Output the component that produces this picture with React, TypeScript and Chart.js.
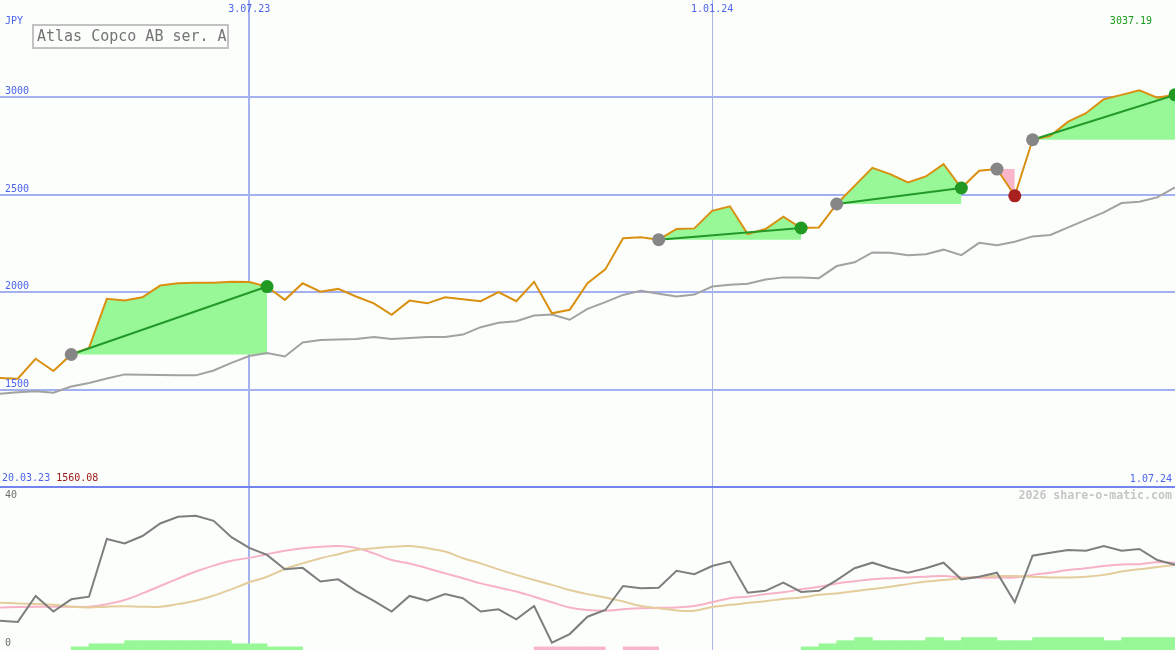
import React, { useEffect, useRef } from 'react';
import { Chart, registerables } from 'chart.js';

Chart.register(...registerables);

const W = 1175;
const TOP_H = 488;
const BOT_H = 162;

// ---- text ----
const title = 'Atlas Copco AB ser. A';
const currency = 'JPY';
const credit = '2026 share-o-matic.com';
const startDateLabel = '20.03.23';
const endDateLabel = '1.07.24';
const dateTickIndex = [14, 40];
const dateTickLabels = ['3.07.23', '1.01.24'];
const priceTicks = [1500, 2000, 2500, 3000];
const oscTicks = [40, 0];

// ---- weekly data (index 0 = week of 27.03.23, index 66 = 1.07.24) ----
const price = [
  1563, 1560.08, 1662, 1599, 1684, 1718, 1969, 1960, 1977, 2037,
  2049, 2051, 2051, 2057, 2055, 2032, 1964, 2049, 2006, 2020,
  1981, 1946, 1887, 1960, 1946, 1977, 1967, 1957, 2003, 1957,
  2056, 1895, 1913, 2049, 2120, 2279, 2284, 2272, 2327, 2330,
  2420, 2443, 2301, 2327, 2390, 2332, 2335, 2455, 2548, 2640,
  2608, 2565, 2596, 2659, 2537, 2625, 2634, 2497, 2784, 2804,
  2877, 2920, 2992, 3014, 3037.19, 3000, 3014,
];
const priceAvg = [
  1483, 1490, 1496, 1488, 1520, 1538, 1561, 1582, 1580, 1579,
  1577, 1577, 1602, 1641, 1676, 1691, 1674, 1745, 1758, 1761,
  1763, 1773, 1763, 1768, 1773, 1774, 1786, 1824, 1846, 1854,
  1884, 1889, 1862, 1918, 1952, 1989, 2011, 1995, 1981, 1991,
  2032, 2041, 2046, 2068, 2079, 2078, 2075, 2137, 2156, 2207,
  2205, 2193, 2198, 2221, 2193, 2256, 2244, 2262, 2289, 2296,
  2335, 2374, 2412, 2460, 2467, 2489, 2540,
];
const trendStrength = [
  7.9, 7.6, 14.6, 10.4, 13.7, 14.4, 30.0, 28.8, 30.8, 34.2,
  36.0, 36.3, 34.9, 30.5, 27.6, 25.7, 21.8, 22.2, 18.5, 19.1,
  15.9, 13.3, 10.4, 14.6, 13.3, 15.1, 14.0, 10.4, 11.0, 8.3,
  11.9, 2.0, 4.3, 9.0, 10.8, 17.3, 16.7, 16.8, 21.4, 20.5,
  22.7, 23.9, 15.5, 16.0, 18.2, 15.7, 16.0, 18.9, 22.1, 23.6,
  22.1, 20.9, 22.1, 23.6, 19.1, 19.8, 20.9, 12.9, 25.5, 26.3,
  27.0, 26.8, 28.1, 26.8, 27.3, 24.3, 23.0,
];
const plusLine = [
  11.5, 11.6, 11.7, 11.7, 11.7, 11.7, 12.4, 13.5, 15.3, 17.3,
  19.3, 21.2, 22.8, 24.1, 24.9, 25.9, 26.8, 27.5, 27.9, 28.1,
  27.6, 26.1, 24.3, 23.4, 22.1, 20.7, 19.4, 18.0, 16.9, 15.8,
  14.4, 12.9, 11.5, 10.8, 10.6, 11.0, 11.3, 11.4, 11.5, 11.9,
  12.9, 14.0, 14.4, 15.1, 15.6, 16.4, 17.1, 18.0, 18.6, 19.1,
  19.4, 19.6, 19.8, 20.0, 19.6, 19.5, 19.6, 19.6, 20.3, 20.9,
  21.6, 22.1, 22.7, 23.1, 23.2, 23.7, 23.6,
];
const minusLine = [
  12.8, 12.6, 12.4, 12.2, 11.7, 11.5, 11.7, 11.8, 11.7, 11.7,
  12.4, 13.3, 14.7, 16.4, 18.3, 19.8, 21.9, 23.4, 24.8, 25.9,
  27.0, 27.5, 27.9, 28.1, 27.5, 26.6, 24.8, 23.4, 21.8, 20.3,
  18.9, 17.6, 16.2, 15.1, 14.2, 13.1, 11.9, 11.3, 10.7, 10.6,
  11.6, 12.2, 12.7, 13.2, 13.8, 14.2, 14.9, 15.3, 15.9, 16.5,
  17.1, 17.8, 18.5, 18.9, 19.4, 19.8, 20.0, 20.0, 19.8, 19.6,
  19.6, 19.8, 20.3, 21.2, 21.8, 22.4, 23.0,
];
const buyBars = [
  0, 0, 0, 0, 1, 2, 2, 3, 3, 3,
  3, 3, 3, 2, 2, 1, 1, 0, 0, 0,
  0, 0, 0, 0, 0, 0, 0, 0, 0, 0,
  0, 0, 0, 0, 0, 0, 0, 0, 0, 0,
  0, 0, 0, 0, 0, 1, 2, 3, 4, 3,
  3, 3, 4, 3, 4, 4, 3, 3, 4, 4,
  4, 4, 3, 4, 4, 4, 0,
];
const sellBars = [
  0, 0, 0, 0, 0, 0, 0, 0, 0, 0,
  0, 0, 0, 0, 0, 0, 0, 0, 0, 0,
  0, 0, 0, 0, 0, 0, 0, 0, 0, 0,
  1, 1, 1, 1, 0, 1, 1, 0, 0, 0,
  0, 0, 0, 0, 0, 0, 0, 0, 0, 0,
  0, 0, 0, 0, 0, 0, 0, 0, 0, 0,
  0, 0, 0, 0, 0, 0, 0,
];
const tradeEntry = [4, 37, 47, 56, 58];
const tradeExit = [15, 45, 54, 57, 66];

// ---- styles ----
const BG = '#fbfefb';
const GRID = '#a3b1f1';
const GRID_THIN = '#aab4e6';
const BLUE_TXT = '#4d63ee';
const MONO = '"DejaVu Sans Mono", monospace';
const GREEN_FILL = '#98f898';
const PINK_FILL = '#f8b6c8';

const pts = (arr: number[]) => arr.map((v, i) => ({ x: i, y: v }));

function drawDateLines(chart: any, h: number) {
  const { ctx, scales } = chart;
  const x = scales.x;
  dateTickIndex.forEach((idx, k) => {
    const px = x.getPixelForValue(idx);
    ctx.beginPath();
    if (k === 0) {
      ctx.strokeStyle = GRID;
      ctx.lineWidth = 2;
      const p = Math.round(px);
      ctx.moveTo(p, 0);
      ctx.lineTo(p, h);
    } else {
      ctx.strokeStyle = GRID_THIN;
      ctx.lineWidth = 1;
      const p = Math.floor(px) + 0.5;
      ctx.moveTo(p, 0);
      ctx.lineTo(p, h);
    }
    ctx.stroke();
  });
}

const topDecor = {
  id: 'topDecor',
  beforeDraw(chart: any) {
    const { ctx, width, height } = chart;
    const y = chart.scales.y;
    ctx.save();
    ctx.fillStyle = BG;
    ctx.fillRect(0, 0, width, height);
    ctx.strokeStyle = GRID;
    ctx.lineWidth = 2;
    for (const v of priceTicks) {
      const py = Math.floor(y.getPixelForValue(v));
      ctx.beginPath();
      ctx.moveTo(0, py);
      ctx.lineTo(width, py);
      ctx.stroke();
    }
    drawDateLines(chart, height);
    ctx.restore();
  },
  afterDraw(chart: any) {
    const { ctx, width } = chart;
    const { x, y } = chart.scales;
    ctx.save();
    ctx.font = `10px ${MONO}`;
    ctx.textBaseline = 'middle';
    ctx.fillStyle = BLUE_TXT;
    ctx.textAlign = 'left';
    for (const v of priceTicks) {
      const py = Math.floor(y.getPixelForValue(v));
      ctx.fillText(String(v), 5, py - 6);
    }
    ctx.textAlign = 'center';
    dateTickIndex.forEach((idx, k) => {
      ctx.fillText(dateTickLabels[k], x.getPixelForValue(idx), 9);
    });
    ctx.textAlign = 'left';
    ctx.fillText(currency, 5, 21);
    // start / min
    ctx.fillText(startDateLabel, 2, 478);
    const sw = ctx.measureText(startDateLabel).width;
    ctx.fillStyle = '#a01818';
    ctx.fillText(Math.min(...price).toFixed(2), 2 + sw + 6, 478);
    // end date
    ctx.fillStyle = BLUE_TXT;
    ctx.textAlign = 'right';
    ctx.fillText(endDateLabel, width - 3, 479);
    // max
    ctx.fillStyle = '#1a9a1a';
    ctx.fillText(Math.max(...price).toFixed(2), 1152, 21);
    // title box
    ctx.fillStyle = BG;
    ctx.fillRect(33, 25, 195, 23);
    ctx.strokeStyle = '#c2c2c2';
    ctx.lineWidth = 2;
    ctx.strokeRect(33, 25, 195, 23);
    ctx.fillStyle = '#747474';
    ctx.textAlign = 'left';
    ctx.font = `15px ${MONO}`;
    ctx.fillText(title, 37, 37);
    // separator
    ctx.strokeStyle = '#7384ee';
    ctx.lineWidth = 2;
    ctx.beginPath();
    ctx.moveTo(0, 487);
    ctx.lineTo(width, 487);
    ctx.stroke();
    ctx.restore();
  },
};

const botDecor = {
  id: 'botDecor',
  beforeDraw(chart: any) {
    const { ctx, width, height } = chart;
    ctx.save();
    ctx.fillStyle = BG;
    ctx.fillRect(0, 0, width, height);
    drawDateLines(chart, height);
    ctx.restore();
  },
  afterDraw(chart: any) {
    const { ctx, width } = chart;
    const y = chart.scales.y;
    ctx.save();
    ctx.textBaseline = 'middle';
    ctx.font = `10px ${MONO}`;
    ctx.fillStyle = '#707070';
    ctx.textAlign = 'left';
    for (const v of oscTicks) {
      ctx.fillText(String(v), 5, y.getPixelForValue(v) - 7);
    }
    ctx.font = `bold 11.6px ${MONO}`;
    ctx.fillStyle = '#c6c6c6';
    ctx.textAlign = 'right';
    ctx.fillText(credit, width - 3, 8);
    ctx.restore();
  },
};

export default function App() {
  const topRef = useRef<HTMLCanvasElement | null>(null);
  const botRef = useRef<HTMLCanvasElement | null>(null);

  useEffect(() => {
    if (!topRef.current || !botRef.current) return;

    const fills = tradeEntry.map((e, k) => {
      const ex = tradeExit[k];
      const win = price[ex] >= price[e];
      const data = [];
      for (let i = e; i <= ex; i++) data.push({ x: i, y: price[i] });
      return {
        type: 'line',
        data,
        fill: { value: price[e] },
        backgroundColor: win ? GREEN_FILL : PINK_FILL,
        borderColor: 'rgba(0,0,0,0)',
        borderWidth: 0,
        pointRadius: 0,
        order: 5,
      };
    });

    const trends = tradeEntry
      .map((e, k) => ({ e, ex: tradeExit[k] }))
      .filter(({ e, ex }) => price[ex] >= price[e])
      .map(({ e, ex }) => ({
        type: 'line',
        data: [
          { x: e, y: price[e] },
          { x: ex, y: price[ex] },
        ],
        borderColor: '#23992a',
        borderWidth: 2,
        pointRadius: 0,
        fill: false,
        order: 1,
      }));

    const markerData: any[] = [];
    const markerColors: string[] = [];
    tradeEntry.forEach((e, k) => {
      const ex = tradeExit[k];
      markerData.push({ x: e, y: price[e] });
      markerColors.push('#868686');
      markerData.push({ x: ex, y: price[ex] });
      markerColors.push(price[ex] >= price[e] ? '#229922' : '#a82020');
    });

    const top = new Chart(topRef.current, {
      type: 'line',
      data: {
        datasets: [
          {
            data: markerData,
            showLine: false,
            pointRadius: 6.5,
            pointBorderWidth: 0,
            pointBackgroundColor: markerColors,
            order: 0,
          },
          ...trends,
          {
            data: pts(price),
            borderColor: '#d99010',
            borderWidth: 2,
            pointRadius: 0,
            fill: false,
            order: 2,
          },
          {
            data: pts(priceAvg),
            borderColor: '#a2a2a2',
            borderWidth: 2,
            pointRadius: 0,
            fill: false,
            order: 3,
          },
          ...fills,
        ] as any,
      },
      options: {
        animation: false,
        responsive: false,
        devicePixelRatio: 1,
        events: [],
        layout: { padding: 0, autoPadding: false },
        plugins: {
          legend: { display: false },
          tooltip: { enabled: false },
          title: { display: false },
        },
        scales: {
          x: { type: 'linear', min: 0, max: 66, display: false, offset: false },
          y: { type: 'linear', min: 1000, max: 3500, display: false },
        },
      },
      plugins: [topDecor],
    } as any);

    const barPts = (arr: number[]) =>
      arr.map((v, i) => (v > 0 ? { x: i + 0.5, y: v } : null)).filter(Boolean);

    const bot = new Chart(botRef.current, {
      type: 'line',
      data: {
        datasets: [
          {
            data: pts(trendStrength),
            borderColor: '#7e7e7e',
            borderWidth: 2,
            pointRadius: 0,
            fill: false,
            order: 0,
          },
          {
            data: pts(minusLine),
            borderColor: '#e4cc9c',
            borderWidth: 2,
            pointRadius: 0,
            tension: 0.4,
            fill: false,
            order: 1,
          },
          {
            data: pts(plusLine),
            borderColor: '#f8b2c8',
            borderWidth: 2,
            pointRadius: 0,
            tension: 0.4,
            fill: false,
            order: 2,
          },
          {
            type: 'bar',
            data: barPts(buyBars),
            yAxisID: 'yb',
            backgroundColor: GREEN_FILL,
            borderWidth: 0,
            grouped: false,
            barPercentage: 1,
            categoryPercentage: 1,
            order: 5,
          },
          {
            type: 'bar',
            data: barPts(sellBars),
            yAxisID: 'yb',
            backgroundColor: PINK_FILL,
            borderWidth: 0,
            grouped: false,
            barPercentage: 1,
            categoryPercentage: 1,
            order: 5,
          },
        ] as any,
      },
      options: {
        animation: false,
        responsive: false,
        devicePixelRatio: 1,
        events: [],
        layout: { padding: 0, autoPadding: false },
        plugins: {
          legend: { display: false },
          tooltip: { enabled: false },
          title: { display: false },
        },
        scales: {
          x: { type: 'linear', min: 0, max: 66, display: false, offset: false, grid: { offset: false } },
          y: { type: 'linear', axis: 'y', min: 0, max: 43.78, display: false },
          yb: { type: 'linear', axis: 'y', min: 0, max: 52, display: false },
        },
      },
      plugins: [botDecor],
    } as any);

    return () => {
      top.destroy();
      bot.destroy();
    };
  }, []);

  return (
    <div style={{ position: 'fixed', left: 0, top: 0, width: W, height: TOP_H + BOT_H, background: BG }}>
      <canvas ref={topRef} width={W} height={TOP_H} style={{ display: 'block' }} />
      <canvas ref={botRef} width={W} height={BOT_H} style={{ display: 'block' }} />
    </div>
  );
}
